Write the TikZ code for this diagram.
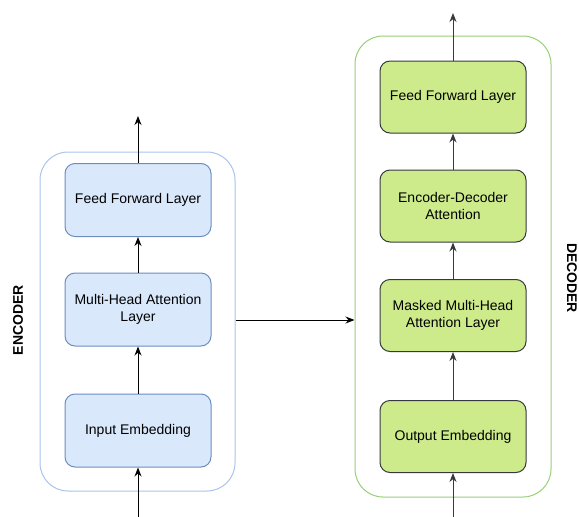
\documentclass[tikz,border=0pt]{standalone}
\usepackage{fontspec}
\setmainfont{Liberation Sans}
\usepackage{tikz}
\usetikzlibrary{arrows.meta, positioning}
\definecolor{encfill}{HTML}{DAE8FC}
\definecolor{encdraw}{HTML}{6C8EBF}
\definecolor{encframe}{HTML}{A9C4EB}
\definecolor{decfill}{HTML}{CDEB8B}
\definecolor{decdraw}{HTML}{36393D}
\definecolor{decframe}{HTML}{97D077}
\tikzset{
  layerbox/.style n args={2}{
    draw=#2, fill=#1, line width=1pt, rounded corners=10pt,
    minimum width=146pt, minimum height=73pt, align=center,
    font=\fontsize{14}{17}\selectfont
  },
  frame/.style={draw=#1, line width=1pt, rounded corners=28pt},
  flow/.style={-{Stealth[length=9pt,width=7pt]}, line width=1pt, draw=#1},
  sidelabel/.style={font=\fontsize{14}{17}\selectfont\bfseries}
}

\begin{document}
\begin{tikzpicture}[x=1pt, y=-1pt]
      \useasboundingbox (0,0) rectangle (579,517);
      % encoder
      \node[frame=encframe, minimum width=195pt, minimum height=339pt] (enc) at (137.5,321.5) {};
      \node[layerbox={encfill}{encdraw}] (encFF) at (138,200) {Feed Forward Layer};
      \node[layerbox={encfill}{encdraw}] (encMH) at (138,309.5) {Multi-Head Attention\\Layer};
      \node[layerbox={encfill}{encdraw}] (encIE) at (138,430.5) {Input Embedding};
      \node[sidelabel, rotate=90] (encL) at (18,320) {ENCODER};
      \coordinate (encIn) at (138,517);
      \coordinate (encOut) at (138,116);
      \draw[flow=black] (encIn) -- (encIE.south);
      \draw[flow=black] (encIE.north) -- (encMH.south);
      \draw[flow=black] (encMH.north) -- (encFF.south);
      \draw[flow=black] (encFF.north) -- (encOut);
      % decoder
      \node[frame=decframe, minimum width=196pt, minimum height=461pt] (dec) at (453,266.5) {};
      \node[layerbox={decfill}{decdraw}, minimum height=72pt] (decFF) at (453,97) {Feed Forward Layer};
      \node[layerbox={decfill}{decdraw}, minimum height=72pt] (decED) at (453,206) {Encoder-Decoder\\Attention};
      \node[layerbox={decfill}{decdraw}, minimum height=72pt] (decMM) at (453,315.5) {Masked Multi-Head\\Attention Layer};
      \node[layerbox={decfill}{decdraw}, minimum height=72pt] (decOE) at (453,436.5) {Output Embedding};
      \node[sidelabel, rotate=-90] (decL) at (572,278) {DECODER};
      \coordinate (decIn) at (453,517);
      \coordinate (decOut) at (453,13);
      \draw[flow=decdraw] (decIn) -- (decOE.south);
      \draw[flow=decdraw] (decOE.north) -- (decMM.south);
      \draw[flow=decdraw] (decMM.north) -- (decED.south);
      \draw[flow=decdraw] (decED.north) -- (decFF.south);
      \draw[flow=decdraw] (decFF.north) -- (decOut);
      % link
      \coordinate (link) at (0,320);
      \draw[flow=black] (enc.east |- link) -- (dec.west |- link);
\end{tikzpicture}
\end{document}
